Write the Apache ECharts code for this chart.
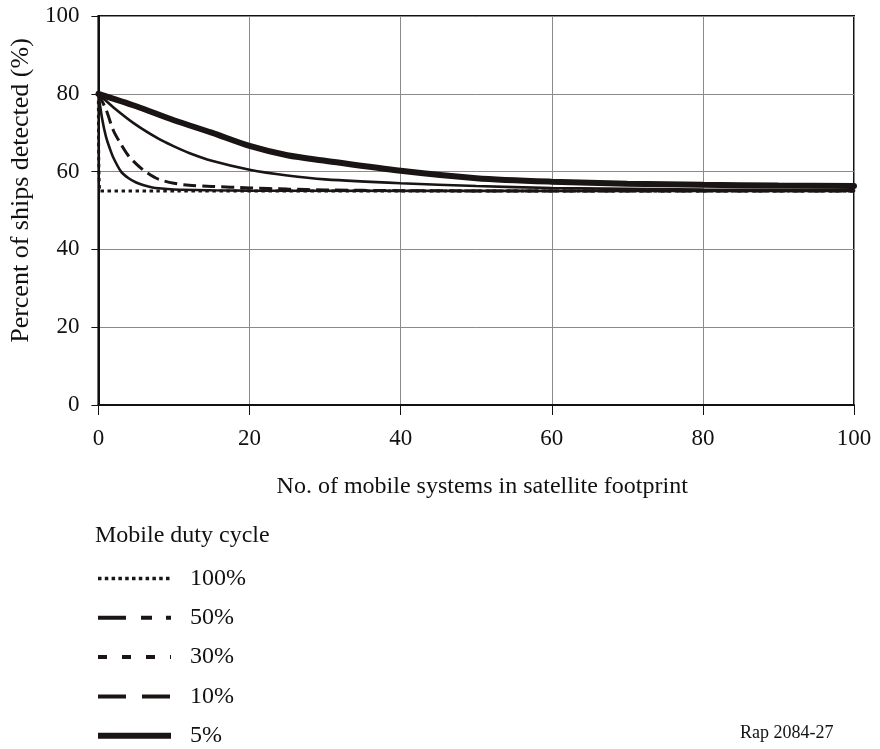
<!DOCTYPE html>
<html>
<head>
<meta charset="utf-8">
<script src="https://cdn.jsdelivr.net/npm/echarts@6/dist/echarts.min.js"></script>
<style>
  html, body { margin: 0; padding: 0; background: #ffffff; }
  #chart { width: 880px; height: 749px; }
</style>
</head>
<body>
<div id="chart"></div>
<script>
// Percent of ships detected vs number of mobile systems, per mobile duty cycle
const dutyCycles = ['100%', '50%', '30%', '10%', '5%'];

const x100 = [0, 0.2, 100];
const y100 = [80, 55, 55];

const x50 = [0, 0.5, 1, 1.5, 2, 3, 4, 5, 6, 7, 8, 10, 15, 20, 100];
const y50 = [80, 73.5, 69, 66, 63.5, 60, 58.3, 57.2, 56.5, 56, 55.7, 55.4, 55.2, 55.1, 55];

const x30 = [0, 1, 2, 3, 4, 5, 6, 7, 8, 10, 12, 15, 20, 25, 30, 40, 60, 100];
const y30 = [80, 76, 70.5, 67, 64, 62, 60.3, 59, 58, 57, 56.5, 56.2, 55.8, 55.5, 55.3, 55.1, 55, 55];

const x10 = [0, 2, 5, 8, 10, 12, 15, 20, 25, 30, 40, 50, 60, 80, 100];
const y10 = [80, 76.5, 72, 68.4, 66.5, 64.8, 62.8, 60.5, 59, 58, 57, 56.3, 55.8, 55.4, 55.2];

const x5 = [0, 5, 10, 15, 20, 25, 30, 40, 50, 60, 70, 80, 90, 100];
const y5 = [80, 76.8, 73.2, 70, 66.6, 64.2, 62.8, 60.2, 58.3, 57.4, 56.9, 56.6, 56.4, 56.3];

const xTicks = [0, 20, 40, 60, 80, 100];
const yTicks = [0, 20, 40, 60, 80, 100];

const ink = '#1a1414';
const serif = '"Liberation Serif", "DejaVu Serif", serif';

function zip(xs, ys) { return xs.map((x, i) => [x, ys[i]]); }

const chart = echarts.init(document.getElementById('chart'), null, { renderer: 'canvas' });

const seriesDefs = [
  { name: dutyCycles[0], data: zip(x100, y100), width: 3, type: [3.5, 3.5], legendType: [3.5, 3.3], legendWidth: 3.5 },
  { name: dutyCycles[1], data: zip(x50, y50),   width: 2.6, type: 'solid', legendType: [28, 15, 11, 14, 11, 14], legendWidth: 4 },
  { name: dutyCycles[2], data: zip(x30, y30),   width: 3, type: [13, 6], legendType: [9, 15], legendWidth: 4 },
  { name: dutyCycles[3], data: zip(x10, y10),   width: 2.6, type: 'solid', legendType: [28, 16], legendWidth: 4 },
  { name: dutyCycles[4], data: zip(x5, y5),     width: 6, type: 'solid', legendType: 'solid', legendWidth: 6 }
];

const option = {
  animation: false,
  backgroundColor: '#ffffff',
  textStyle: { fontFamily: serif },
  grid: {
    left: 97, right: 26, top: 16, bottom: 344,
    show: true, borderColor: '#111111', borderWidth: 2, backgroundColor: 'transparent'
  },
  xAxis: {
    type: 'value', min: xTicks[0], max: xTicks[xTicks.length - 1], interval: 20,
    name: 'No. of mobile systems in satellite footprint',
    nameLocation: 'middle', nameGap: 70,
    nameTextStyle: { fontFamily: serif, fontSize: 24, color: '#111', padding: [0, 0, 0, 12] },
    axisLine: { show: true, lineStyle: { color: '#111', width: 2 } },
    axisTick: { show: true, length: 10, lineStyle: { color: '#111', width: 1 } },
    axisLabel: { margin: 22, fontFamily: serif, fontSize: 23, color: '#111' },
    splitLine: { show: true, lineStyle: { color: '#8a8a8a', width: 1 } }
  },
  yAxis: {
    type: 'value', min: yTicks[0], max: yTicks[yTicks.length - 1], interval: 20,
    name: 'Percent of ships detected (%)',
    nameLocation: 'middle', nameGap: 62, nameRotate: 90,
    nameTextStyle: { fontFamily: serif, fontSize: 26, color: '#111', padding: [0, 0, 0, 40] },
    axisLine: { show: true, lineStyle: { color: '#111', width: 2 } },
    axisTick: { show: true, length: 7, lineStyle: { color: '#111', width: 1 } },
    axisLabel: { margin: 19, fontFamily: serif, fontSize: 23, color: '#111' },
    splitLine: { show: true, lineStyle: { color: '#8a8a8a', width: 1 } }
  },
  legend: {
    orient: 'vertical', left: 95, top: 566.5, padding: 0, height: 220,
    itemWidth: 73, itemHeight: 20, itemGap: 15.3,
    selectedMode: false,
    itemStyle: { opacity: 0 },
    textStyle: { fontFamily: serif, fontSize: 24, color: '#111', padding: [0, 0, 0, 14] },
    data: seriesDefs.map(s => ({
      name: s.name,
      itemStyle: { opacity: 0 },
      lineStyle: { color: ink, width: s.legendWidth, type: s.legendType, cap: 'butt', opacity: 1 }
    }))
  },
  graphic: [
    { type: 'text', left: 95, top: 524,
      style: { text: 'Mobile duty cycle', font: '24px ' + serif, fill: '#111' } },
    { type: 'text', left: 740, top: 724,
      style: { text: 'Rap 2084-27', font: '18px ' + serif, fill: '#111' } }
  ],
  series: seriesDefs.map(s => ({
    name: s.name,
    type: 'line',
    data: s.data,
    showSymbol: false,
    symbol: 'none',
    smooth: 0.3,
    lineStyle: { color: ink, width: s.width, type: s.type, cap: s.type === 'solid' ? 'round' : 'butt' },
    itemStyle: { color: ink },
    z: 3
  }))
};

chart.setOption(option);
</script>
</body>
</html>
